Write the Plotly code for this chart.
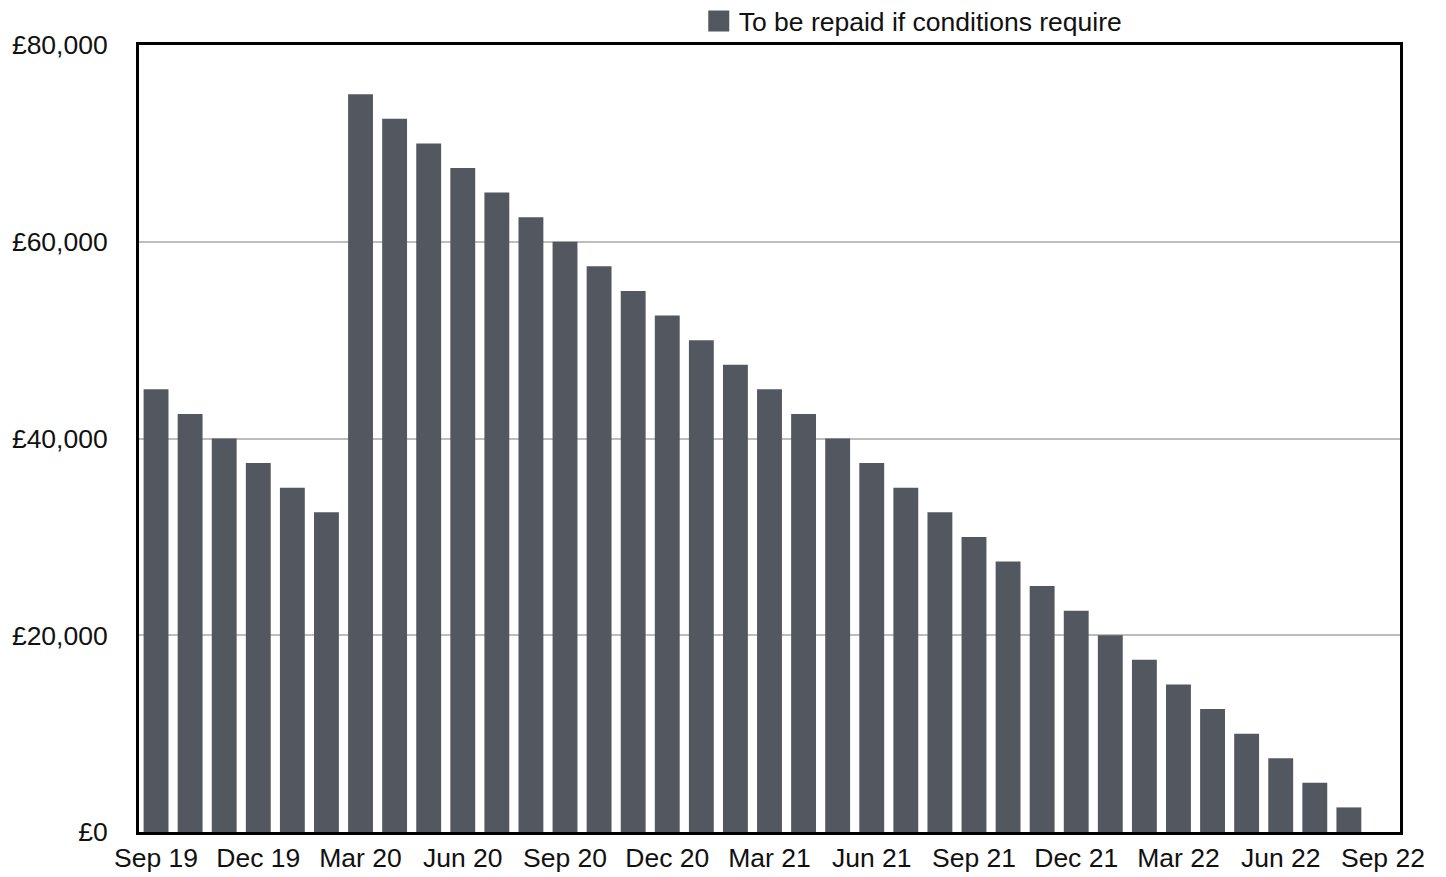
import plotly.graph_objects as go

months = ["Sep 19", "Oct 19", "Nov 19", "Dec 19", "Jan 20", "Feb 20",
          "Mar 20", "Apr 20", "May 20", "Jun 20", "Jul 20", "Aug 20",
          "Sep 20", "Oct 20", "Nov 20", "Dec 20", "Jan 21", "Feb 21",
          "Mar 21", "Apr 21", "May 21", "Jun 21", "Jul 21", "Aug 21",
          "Sep 21", "Oct 21", "Nov 21", "Dec 21", "Jan 22", "Feb 22",
          "Mar 22", "Apr 22", "May 22", "Jun 22", "Jul 22", "Aug 22",
          "Sep 22"]
values = [45000, 42500, 40000, 37500, 35000, 32500,
          75000, 72500, 70000, 67500, 65000, 62500,
          60000, 57500, 55000, 52500, 50000, 47500,
          45000, 42500, 40000, 37500, 35000, 32500,
          30000, 27500, 25000, 22500, 20000, 17500,
          15000, 12500, 10000, 7500, 5000, 2500,
          0]
tick_labels = months[::3]
y_tick_values = [0, 20000, 40000, 60000, 80000]
y_tick_text = ["£0", "£20,000", "£40,000", "£60,000", "£80,000"]
series_name = "To be repaid if conditions require"

bar_color = "#53575f"
font_family = "Liberation Sans, Arial, sans-serif"
fs = 26.5

fig = go.Figure()
fig.add_trace(go.Bar(x=months, y=values, marker_color=bar_color,
                     marker_line_width=0, showlegend=False, name=series_name))
# legend-only marker to reproduce the large square swatch
fig.add_trace(go.Scatter(x=[None], y=[None], mode="markers", name=series_name,
                         marker=dict(symbol="square", size=16, color=bar_color,
                                     line=dict(color=bar_color, width=5))))

fig.update_layout(
    width=1438, height=869,
    margin=dict(l=131, r=46, t=37, b=45, autoexpand=False),
    paper_bgcolor="white", plot_bgcolor="white",
    bargap=0.27,
    font=dict(family=font_family, size=fs, color="#111111"),
    legend=dict(orientation="h", x=0.4439, xanchor="left", y=1.0303, yanchor="middle",
                font=dict(size=fs), bgcolor="rgba(0,0,0,0)", itemsizing="trace",
                itemwidth=30),
    xaxis=dict(type="category", categoryorder="array", categoryarray=months,
               tickmode="array", tickvals=tick_labels, ticktext=tick_labels,
               showgrid=False, showline=True, linecolor="black", linewidth=3,
               mirror=True, ticks="", tickfont=dict(size=fs), automargin=False),
    yaxis=dict(range=[0, 80000], tickmode="array", tickvals=y_tick_values,
               ticktext=y_tick_text, showgrid=True,
               gridcolor="#bdbdbd", gridwidth=2, zeroline=False,
               showline=True, linecolor="black", linewidth=3, mirror=True,
               ticks="", ticklabelstandoff=23, tickfont=dict(size=fs),
               automargin=False),
)

fig.write_html("out.html")
